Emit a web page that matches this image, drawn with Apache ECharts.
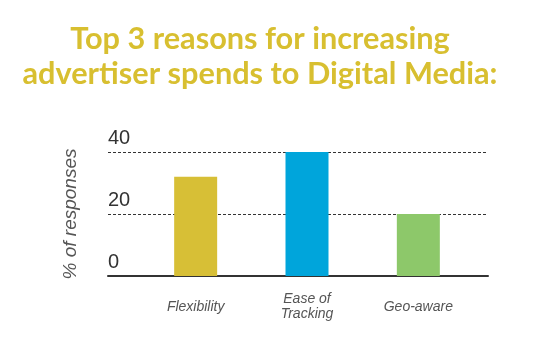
<!DOCTYPE html>
<html><head><meta charset="utf-8">
<script src="https://cdn.jsdelivr.net/npm/echarts@6/dist/echarts.min.js"></script>
<style>html,body{margin:0;padding:0;background:#fff}#c{width:547px;height:346px}</style>
</head><body><div id="c"></div>
<script>
const titleText = 'Top 3 reasons for increasing\nadvertiser spends to Digital Media:';
const categories = ['Flexibility', 'Ease of\nTracking', 'Geo-aware'];
const values = [32, 40, 20];
const barColors = ['#D7BF36', '#00A5DB', '#8DC86A'];
const yTicks = [0, 20, 40];
const yName = '% of responses';

const chart = echarts.init(document.getElementById('c'), null, {renderer: 'canvas'});
chart.setOption({
  animation: false,
  backgroundColor: '#fff',
  title: {
    text: titleText, left: 255, textAlign: 'center', top: 17,
    textStyle: {fontFamily: 'Lato', fontWeight: 'bold', fontSize: 30.7, lineHeight: 35, color: '#D8BF30'}
  },
  grid: [
    {left: 108, right: 59, top: 152, bottom: 70},
    {left: 140, right: 73, top: 152, bottom: 70}
  ],
  xAxis: [
    {gridIndex: 0, type: 'value', min: 0, max: 1, show: true,
     axisLine: {show: true, lineStyle: {color: '#333', width: 2}},
     axisTick: {show: false}, axisLabel: {show: false}, splitLine: {show: false}},
    {gridIndex: 1, type: 'category', data: categories,
     axisLine: {show: false}, axisTick: {show: false},
     axisLabel: {margin: 31, verticalAlign: 'middle', fontFamily: 'Liberation Sans', fontStyle: 'italic',
                 fontSize: 14, lineHeight: 15, color: '#555'}}
  ],
  yAxis: [
    {gridIndex: 0, type: 'value', min: yTicks[0], max: yTicks[yTicks.length-1], interval: 20,
     axisLine: {show: false}, axisTick: {show: false},
     axisLabel: {inside: true, margin: 0, verticalAlign: 'bottom', padding: [0, 0, 4, 0],
                 fontFamily: 'Liberation Sans', fontSize: 20, color: '#333'},
     splitLine: {show: true, lineStyle: {type: [3, 2], color: '#333', width: 1}},
     name: yName, nameLocation: 'middle', nameGap: 28, nameRotate: 90,
     nameTextStyle: {fontFamily: 'Liberation Sans', fontStyle: 'italic', fontSize: 19, color: '#555'}},
    {gridIndex: 1, type: 'value', min: 0, max: 40, show: false, splitLine: {show: false}}
  ],
  series: [{
    type: 'bar', xAxisIndex: 1, yAxisIndex: 1, barWidth: 43,
    data: values.map((v, i) => ({value: v, itemStyle: {color: barColors[i]}}))
  }]
});
</script></body></html>
